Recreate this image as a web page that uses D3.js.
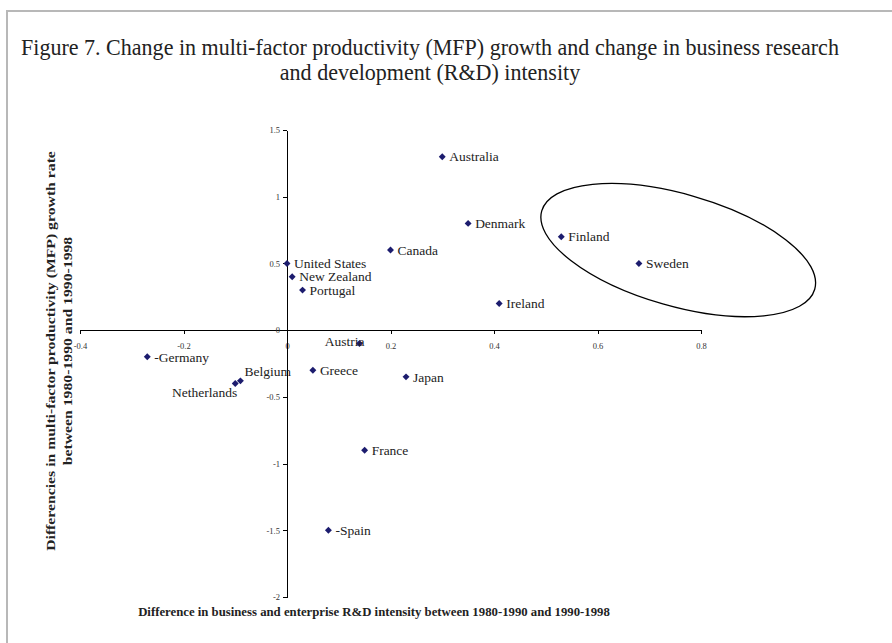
<!DOCTYPE html>
<html>
<head>
<meta charset="utf-8">
<script src="https://cdn.jsdelivr.net/npm/d3@7"></script>
<style>
  body { margin: 0; background: #fff; }
  text { font-family: "Liberation Serif", "Times New Roman", serif; }
</style>
</head>
<body>
<div id="chart"></div>
<script>
(function () {

  // countries
  const countries = ["Australia", "Denmark", "Finland", "Sweden", "Canada", "United States",
    "New Zealand", "Portugal", "Ireland", "Austria", "Germany", "Greece", "Japan",
    "Belgium", "Netherlands", "France", "Spain"]
  // change in business R&D intensity
  const rdChange = [0.30, 0.35, 0.53, 0.68, 0.20, 0.00, 0.01, 0.03, 0.41, 0.14, -0.27, 0.05, 0.23,
    -0.09, -0.10, 0.15, 0.08]
  // change in MFP growth
  const mfpChange = [1.30, 0.80, 0.70, 0.50, 0.60, 0.50, 0.40, 0.30, 0.20, -0.10, -0.20, -0.30, -0.35,
    -0.38, -0.40, -0.90, -1.50]
  const labels = ["Australia", "Denmark", "Finland", "Sweden", "Canada", "United States",
    "New Zealand", "Portugal", "Ireland", "Austria", "-Germany", "Greece", "Japan",
    "Belgium", "Netherlands", "France", "-Spain"]

  const xTicks = [-0.4, -0.2, 0, 0.2, 0.4, 0.6, 0.8]
  const yTicks = [-2, -1.5, -1, -0.5, 0, 0.5, 1, 1.5]

  const titleLines = ["Figure 7. Change in multi-factor productivity (MFP) growth and change in business research",
    "and development (R&D) intensity"]
  const yTitleLines = ["Differencies in multi-factor productivity (MFP) growth rate",
    "between 1980-1990 and 1990-1998"]
  const xTitle = "Difference in business and enterprise R&D intensity between 1980-1990 and 1990-1998"

  const width = 892
  const height = 643

  const svg = d3.select("#chart").append("svg")
      .attr("width", width)
      .attr("height", height)

  // grey frame on top and left
  svg.append("path")
      .attr("d", "M7,643V11H892")
      .attr("fill", "none")
      .attr("stroke", "#b8b8b8")
      .attr("stroke-width", 2)

  // source glyphs are tall and narrow: draw, then squeeze along the line
  // so the first line has the wanted length
  function fitText(g, lines, fontSize, weight, wanted, lineGap) {
    const t = g.append("text")
      .attr("text-anchor", "middle")
      .style("font-size", fontSize + "px")
      .style("font-weight", weight)
      .attr("fill", "#222")
    lines.forEach((l, i) => {
      t.append("tspan").attr("x", 0).attr("y", i * lineGap).text(l)
    })
    const len = t.select("tspan").node().getComputedTextLength()
    t.attr("transform", "scale(" + (wanted / len) + ",1)")
    return t
  }

  fitText(svg.append("g").attr("transform", "translate(430,55)"),
    titleLines, 23, "normal", 818, 25)

  fitText(svg.append("g").attr("transform", "translate(374,616)"),
    [xTitle], 13, "bold", 472, 0)

  fitText(svg.append("g").attr("transform", "translate(55,351) rotate(-90)"),
    yTitleLines, 13, "bold", 400, 17)

  const xPositionScale = d3.scaleLinear()
    .domain([-0.4, 0.8])
    .range([80, 701])

  const yPositionScale = d3.scaleLinear()
    .domain([-2, 1.5])
    .range([597, 130])

  const datapoints = countries.map((c, i) => ({
    country: c, label: labels[i], x: rdChange[i], y: mfpChange[i]
  }))

  // axes cross at zero
  const xAxis = d3.axisBottom(xPositionScale)
    .tickValues(xTicks)
    .tickFormat(d => String(d))
    .tickSize(4)
    .tickSizeOuter(0)
    .tickPadding(9)
  svg.append("g")
      .attr("class", "axis x-axis")
      .attr("transform", "translate(0," + yPositionScale(0) + ")")
      .call(xAxis)

  const yAxis = d3.axisLeft(yPositionScale)
    .tickValues(yTicks)
    .tickFormat(d => String(d))
    .tickSize(4)
    .tickSizeOuter(0)
    .tickPadding(3)
  svg.append("g")
      .attr("class", "axis y-axis")
      .attr("transform", "translate(" + xPositionScale(0) + ",0)")
      .call(yAxis)

  svg.selectAll(".axis path, .axis line")
      .attr("stroke", "#000")
      .attr("shape-rendering", "crispEdges")
  svg.selectAll(".axis text")
      .style("font-size", "8.5px")
      .style("font-family", "'Liberation Serif', serif")
      .attr("fill", "#333")

  // the ring round the nordic pair
  const ring = { cx: 0.756, cy: 0.60, rx: 142, ry: 56, angle: 16 }
  svg.append("ellipse")
      .attr("transform", "translate(" + xPositionScale(ring.cx) + "," + yPositionScale(ring.cy) + ") rotate(" + ring.angle + ")")
      .attr("rx", ring.rx)
      .attr("ry", ring.ry)
      .attr("fill", "none")
      .attr("stroke", "#000")
      .attr("stroke-width", 1.3)

  svg.selectAll(".point")
    .data(datapoints, d => d.country)
    .enter().append("path")
      .attr("class", "point")
      .attr("d", d3.symbol(d3.symbolSquare, 24))
      .attr("transform", d => "translate(" + xPositionScale(d.x) + "," + yPositionScale(d.y) + ") rotate(45)")
      .attr("fill", "#1c1c6e")

  // a few labels sit off to the side
  const placement = {
    "Austria": { dx: 5, dy: -2, anchor: "end" },
    "Belgium": { dx: 4, dy: -10, anchor: "start" },
    "Netherlands": { dx: 2, dy: 9, anchor: "end" }
  }

  svg.selectAll(".label")
    .data(datapoints, d => d.country)
    .enter().append("text")
      .attr("class", "label")
      .attr("x", d => xPositionScale(d.x) + (placement[d.country] ? placement[d.country].dx : 7))
      .attr("y", d => yPositionScale(d.y) + (placement[d.country] ? placement[d.country].dy : 0))
      .attr("dy", "0.35em")
      .attr("text-anchor", d => placement[d.country] ? placement[d.country].anchor : "start")
      .style("font-size", "13.5px")
      .attr("fill", "#222")
      .text(d => d.label)

})();
</script>
</body>
</html>
